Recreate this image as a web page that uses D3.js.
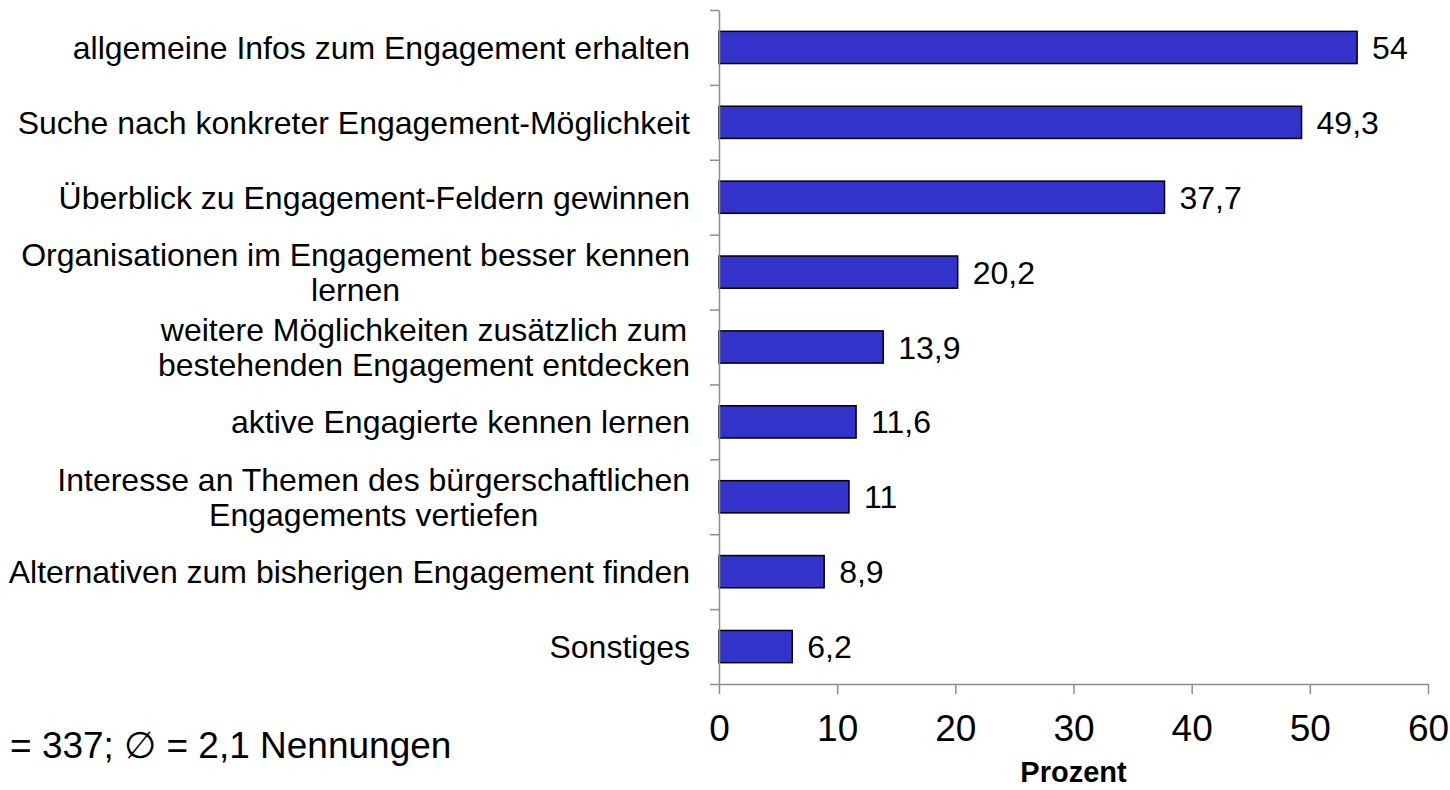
<!DOCTYPE html>
<html>
<head>
<meta charset="utf-8">
<script src="https://cdn.jsdelivr.net/npm/d3@7"></script>
<style>
  body { margin: 0; background: #fff; }
  text { font-family: "Liberation Sans", Arial, sans-serif; fill: #000; }
</style>
</head>
<body>
<script>
const w = 1450;
const h = 790;

// categories, top to bottom ("\n" marks a line break in the label)
const categories = [
    "allgemeine Infos zum Engagement erhalten",
    "Suche nach konkreter Engagement-Möglichkeit",
    "Überblick zu Engagement-Feldern gewinnen",
    "Organisationen im Engagement besser kennen\nlernen",
    "weitere Möglichkeiten zusätzlich zum\nbestehenden Engagement entdecken",
    "aktive Engagierte kennen lernen",
    "Interesse an Themen des bürgerschaftlichen\nEngagements vertiefen",
    "Alternativen zum bisherigen Engagement finden",
    "Sonstiges"
];
const values = [54, 49.3, 37.7, 20.2, 13.9, 11.6, 11, 8.9, 6.2];
const xTicks = [0, 10, 20, 30, 40, 50, 60];
const xTitle = "Prozent";
const note = "= 337; \u2205 = 2,1 Nennungen";

const plotLeft = 719, plotTop = 10, plotRight = 1428, plotBottom = 684;

const svg = d3.select("body")
    .append("svg")
    .attr("width", w)
    .attr("height", h);

const xScale = d3.scaleLinear()
    .domain([0, 60])
    .range([plotLeft, plotRight]);

const yScale = d3.scaleBand()
    .domain(categories)
    .range([plotTop, plotBottom])
    .paddingInner(0.57)
    .paddingOuter(0.285);

// boundary ticks between categories
const edgeScale = d3.scaleLinear()
    .domain([0, categories.length])
    .range([plotTop, plotBottom]);

const fmt = (v) => String(v).replace(".", ",");

// bars
svg.append("g")
    .selectAll("rect")
    .data(values)
    .join("rect")
    .attr("x", xScale(0))
    .attr("y", (d, i) => yScale(categories[i]))
    .attr("width", (d) => xScale(d) - xScale(0))
    .attr("height", yScale.bandwidth())
    .attr("fill", "#3333cc")
    .attr("stroke", "#000")
    .attr("stroke-width", 1.5);

// value labels
svg.append("g")
    .selectAll("text")
    .data(values)
    .join("text")
    .attr("x", (d) => xScale(d) + 15)
    .attr("y", (d, i) => yScale(categories[i]) + yScale.bandwidth() / 2)
    .attr("dy", "0.36em")
    .style("font-size", "32px")
    .text(fmt);

// y axis
const yAxis = d3.axisLeft(edgeScale)
    .tickValues(d3.range(categories.length + 1))
    .tickSize(9)
    .tickSizeOuter(0)
    .tickFormat("");

svg.append("g")
    .attr("transform", "translate(" + plotLeft + ", 0)")
    .call(yAxis)
    .call((g) => g.selectAll("line, path").attr("stroke", "#8c8c8c").attr("stroke-width", 1.5));

// x axis
const xAxis = d3.axisBottom(xScale)
    .tickValues(xTicks)
    .tickSize(10)
    .tickSizeOuter(0)
    .tickPadding(21);

svg.append("g")
    .attr("transform", "translate(0, " + plotBottom + ")")
    .call(xAxis)
    .call((g) => g.selectAll("line, path").attr("stroke", "#8c8c8c").attr("stroke-width", 1.5))
    .call((g) => g.selectAll("text")
        .style("font-size", "37px")
        .style("font-family", "'Liberation Sans', Arial, sans-serif")
        .attr("fill", "#000"));

// category labels, lines centred on each other, block right-aligned
const lineH = 35;
const labels = svg.append("g")
    .selectAll("text")
    .data(categories)
    .join("text")
    .style("font-size", "32px")
    .attr("text-anchor", "middle");

labels.each(function (d) {
    const lines = d.split("\n");
    const t = d3.select(this);
    const cy = yScale(d) + yScale.bandwidth() / 2;
    lines.forEach((line, k) => {
        t.append("tspan")
            .attr("y", cy + (k - (lines.length - 1) / 2) * lineH)
            .attr("dy", "0.36em")
            .text(line);
    });
    const maxW = d3.max(t.selectAll("tspan").nodes(), (n) => n.getComputedTextLength());
    t.selectAll("tspan").attr("x", 690 - maxW / 2);
});

// axis title
svg.append("text")
    .attr("x", (plotLeft + plotRight) / 2)
    .attr("y", 782)
    .attr("text-anchor", "middle")
    .style("font-size", "29px")
    .style("font-weight", "bold")
    .text(xTitle);

// footnote
svg.append("text")
    .attr("x", 10)
    .attr("y", 758)
    .style("font-size", "37px")
    .text(note);
</script>
</body>
</html>
